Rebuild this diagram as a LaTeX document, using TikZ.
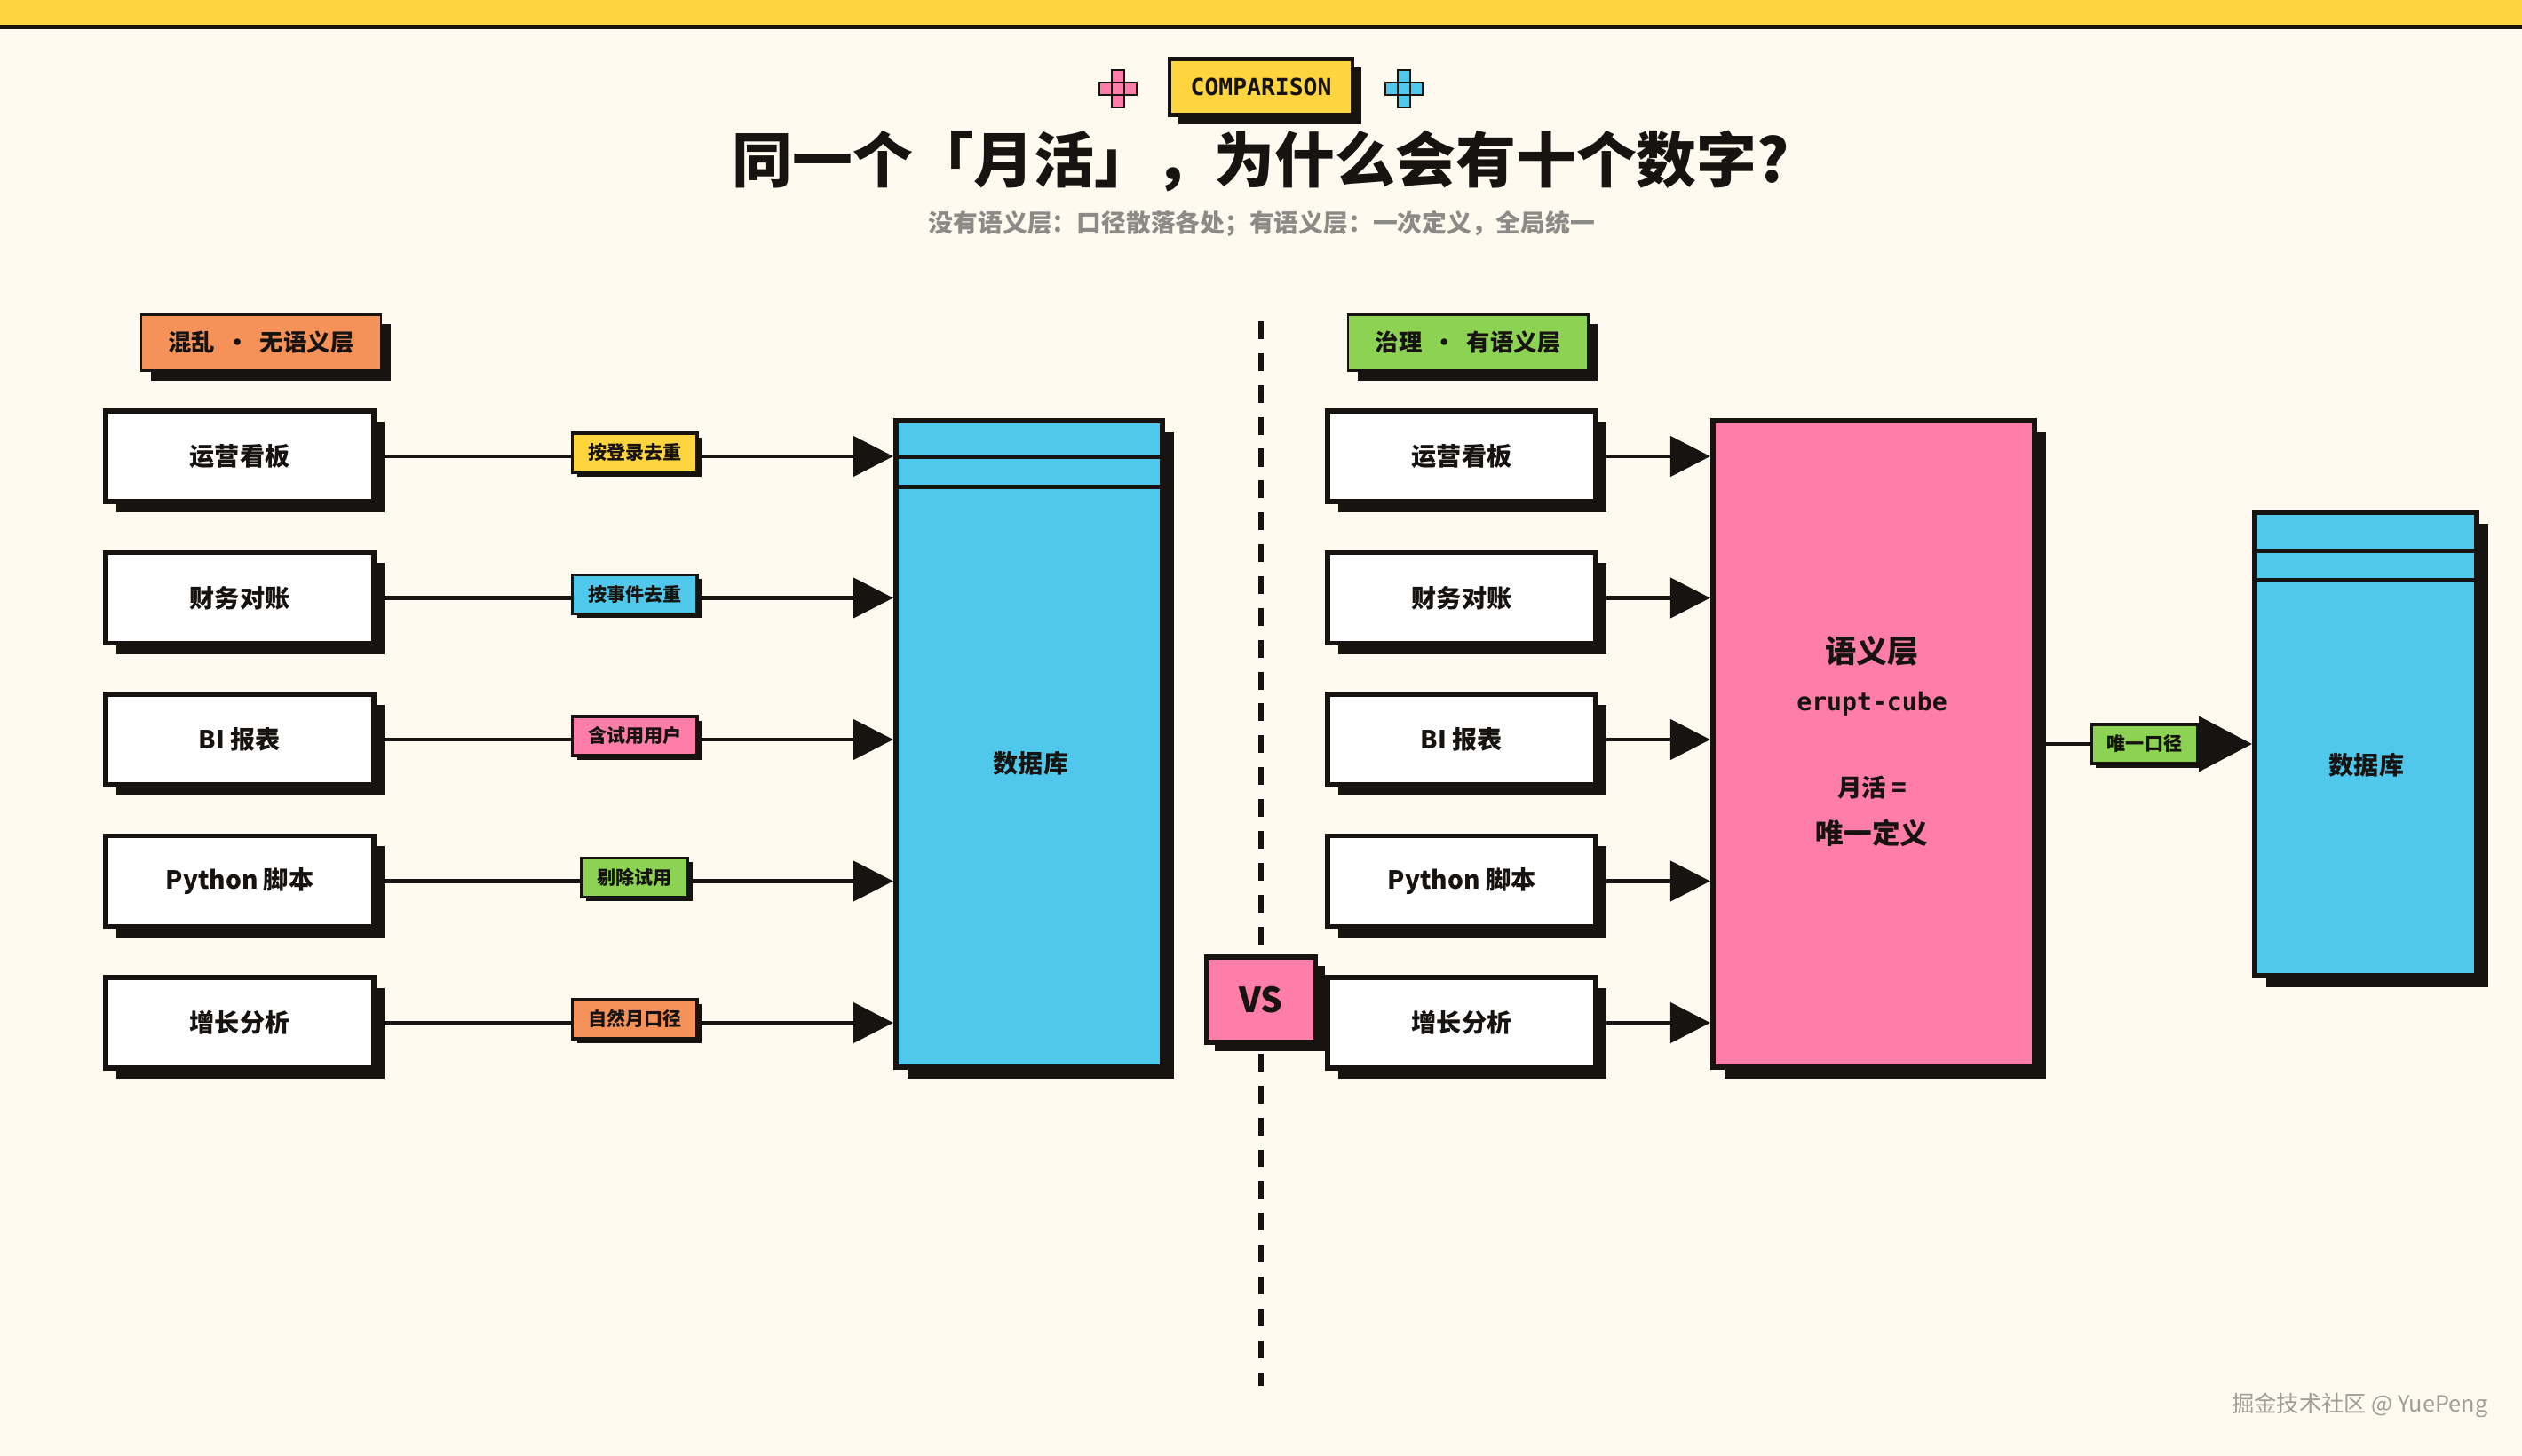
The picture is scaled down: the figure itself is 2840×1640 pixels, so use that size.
\documentclass[tikz,border=0pt]{standalone}
\usepackage{fontspec}
\setmainfont{Noto Sans CJK SC}
\newfontfamily\monofont{DejaVu Sans Mono}
\usetikzlibrary{arrows.meta, shadows, positioning, calc}

\definecolor{paper}{HTML}{FEFAEF}
\definecolor{ink}{HTML}{161310}
\definecolor{barYellow}{HTML}{FFD53F}
\definecolor{skyBlue}{HTML}{4FC8EC}
\definecolor{rosePink}{HTML}{FF7EA9}
\definecolor{leafGreen}{HTML}{8DD353}
\definecolor{tangerine}{HTML}{F5925A}
\definecolor{slateGray}{HTML}{8C8A86}
\definecolor{creditGray}{HTML}{A09C96}

\begin{document}
\begin{tikzpicture}[x=0.01cm, y=-0.01cm,
	hardshadow/.style={drop shadow={shadow xshift=#1, shadow yshift=-#1, opacity=1, fill=ink}},
	srcbox/.style={draw=ink, line width=1.5pt, fill=white, minimum width=3.02cm, minimum height=1.02cm,
		font=\bfseries\fontsize{8}{10}\selectfont, text=ink, hardshadow=0.12cm},
	tagbox/.style={draw=ink, line width=1pt, inner xsep=5pt, inner ysep=0pt, minimum height=0.44cm,
		font=\bfseries\fontsize{6}{7}\selectfont, text=ink, hardshadow=0.05cm},
	legendbox/.style={draw=ink, line width=0.8pt, minimum width=2.7cm, minimum height=0.63cm,
		font=\bfseries\fontsize{7.5}{9}\selectfont, text=ink, hardshadow=0.11cm},
	dbbox/.style={draw=ink, line width=1.7pt, fill=skyBlue, hardshadow=0.13cm},
	dbtext/.style={font=\bfseries\fontsize{8}{10}\selectfont, text=ink},
	feed/.style={draw=ink, line width=1.4pt, -{Triangle[length=12.8pt, width=12.8pt]}},
	bigfeed/.style={draw=ink, line width=1.4pt, -{Triangle[length=17pt, width=17.5pt]}}]

	\def\rowTop{514};
	\def\rowGap{159.5};

	\newcommand{\pixelCross}[2]
	{
		\foreach \dx/\dy in {0/0, -14/0, 14/0, 0/-14, 0/14}
			\draw[ink, line width=0.8pt, fill=#2] ($(#1)+(\dx-7,\dy-7)$) rectangle ++(14,14);
	}

	% page
	\fill[paper] (0,0) rectangle (2840,1640);
	\useasboundingbox (0,0) rectangle (2840,1640);
	\fill[barYellow] (0,0) rectangle (2840,28);
	\fill[ink] (0,28) rectangle (2840,33);

	% header
	\node[draw=ink, line width=1.2pt, fill=barYellow, minimum width=2.06cm, minimum height=0.63cm,
		font=\monofont\bfseries\fontsize{7.5}{9}\selectfont, text=ink, hardshadow=0.1cm] (badge) at (1420,98) {COMPARISON};
	\coordinate (crossL) at (1259,100);
	\coordinate (crossR) at (1581,100);
	\pixelCross{crossL}{rosePink}
	\pixelCross{crossR}{skyBlue}
	\node[font=\bfseries\fontsize{19.3}{23}\selectfont, text=ink] (title) at (1420,181) {同一个「月活」，为什么会有十个数字?};
	\node[font=\bfseries\fontsize{7.9}{9}\selectfont, text=slateGray] (subtitle) at (1421,252) {没有语义层：口径散落各处；有语义层：一次定义，全局统一};

	% divider
	\coordinate (divTop) at (1420,362);
	\coordinate (divBot) at (1420,1561);
	\draw[ink, line width=1.7pt, dash pattern=on 5.7pt off 4.5pt] (divTop) -- (divBot);
	\node[draw=ink, line width=1.5pt, fill=rosePink, minimum width=1.23cm, minimum height=0.96cm,
		font=\bfseries\fontsize{11}{12}\selectfont, text=ink, hardshadow=0.1cm] (vs) at (1420,1126) {VS};

	% left: no semantic layer
	\node[legendbox, fill=tangerine] (legL) at (294,386) {混乱 \ · \ 无语义层};
	\node[dbbox, minimum width=3cm, minimum height=7.28cm] (dbL) at (1159,838) {};
	\draw[ink, line width=1.4pt] ($(dbL.north west)+(0,44)$) -- ($(dbL.north east)+(0,44)$);
	\draw[ink, line width=1.4pt] ($(dbL.north west)+(0,78)$) -- ($(dbL.north east)+(0,78)$);
	\node[dbtext] (dbLtext) at (1161,860) {数据库};

	\foreach \name/\tag/\tagcol [count=\i] in {运营看板/按登录去重/barYellow, 财务对账/按事件去重/skyBlue,
		BI 报表/含试用用户/rosePink, Python 脚本/剔除试用/leafGreen, 增长分析/自然月口径/tangerine}
	{
		\pgfmathsetmacro\rowy{\rowTop+(\i-1)*\rowGap}
		\node[srcbox] (srcL\i) at (270,\rowy) {\name};
		\draw[feed] (srcL\i.east) -- (srcL\i.east -| dbL.west) node[midway, yshift=1.2pt, tagbox, fill=\tagcol] (tagL\i) {\tag};
	}

	% right: semantic layer
	\node[legendbox, fill=leafGreen] (legR) at (1653,386) {治理 \ · \ 有语义层};
	\node[dbbox, fill=rosePink, minimum width=3.62cm, minimum height=7.28cm] (sem) at (2110,838) {};
	\node[font=\bfseries\fontsize{10}{12}\selectfont, text=ink] (semTitle) at (2108,733) {语义层};
	\node[font=\monofont\bfseries\fontsize{8}{10}\selectfont, text=ink] (semCode) at (2108,793) {erupt-cube};
	\node[font=\bfseries\fontsize{7.8}{9}\selectfont, text=ink] (semEq) at (2108,887) {月活 =};
	\node[font=\bfseries\fontsize{9}{11}\selectfont, text=ink] (semDef) at (2108,938) {唯一定义};

	\foreach \name [count=\i] in {运营看板, 财务对账, BI 报表, Python 脚本, 增长分析}
	{
		\pgfmathsetmacro\rowy{\rowTop+(\i-1)*\rowGap}
		\node[srcbox] (srcR\i) at (1646,\rowy) {\name};
		\draw[feed] (srcR\i.east) -- (srcR\i.east -| sem.west);
	}

	\node[dbbox, minimum width=2.5cm, minimum height=5.21cm] (dbR) at (2664,838) {};
	\draw[ink, line width=1.4pt] ($(dbR.north west)+(0,46)$) -- ($(dbR.north east)+(0,46)$);
	\draw[ink, line width=1.4pt] ($(dbR.north west)+(0,79)$) -- ($(dbR.north east)+(0,79)$);
	\node[dbtext] (dbRtext) at (2665,862) {数据库};
	\draw[bigfeed] (sem.east |- dbR.west) -- (dbR.west) node[midway, tagbox, fill=leafGreen] (tagR) {唯一口径};

	% credit
	\node[anchor=east, inner sep=0pt, font=\fontsize{7.2}{9}\selectfont, text=creditGray] (credit) at (2802,1583) {掘金技术社区 @ YuePeng};
\end{tikzpicture}
\end{document}
